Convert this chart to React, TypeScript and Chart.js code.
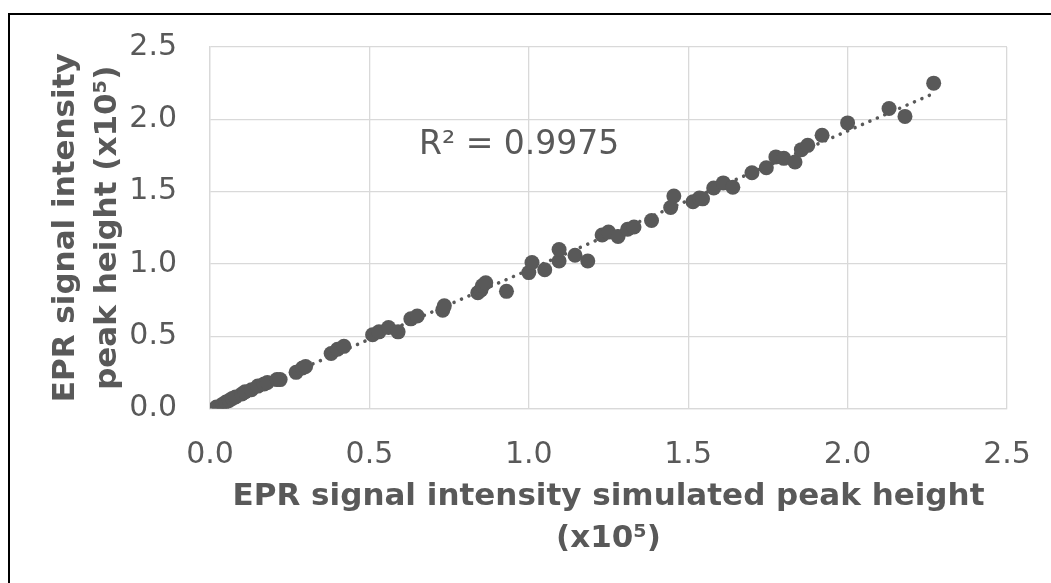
import React, { useEffect, useRef } from "react";
import { Chart, registerables } from "chart.js";

Chart.register(...registerables);

// Simulated peak height (x10^5)
const simulatedValues: number[] = [
  0.02, 0.03, 0.04, 0.05, 0.06, 0.07, 0.08, 0.10, 0.11, 0.13, 0.15, 0.17, 0.18, 0.21, 0.22,
  0.27, 0.29, 0.30, 0.38, 0.40, 0.42,
  0.51, 0.53, 0.56, 0.59, 0.63, 0.65, 0.73, 0.735, 0.84, 0.85, 0.855, 0.865, 0.93,
  1.00, 1.01, 1.05, 1.095, 1.095, 1.145, 1.185, 1.23, 1.25, 1.28, 1.31, 1.33, 1.385,
  1.445, 1.455, 1.515, 1.535, 1.545, 1.58, 1.61, 1.64, 1.70, 1.745, 1.775, 1.80, 1.835,
  1.855, 1.875, 1.92, 2.00, 2.13, 2.18, 2.27,
];
// Measured peak height (x10^5)
const measuredValues: number[] = [
  0.01, 0.00, 0.03, 0.045, 0.055, 0.07, 0.08, 0.10, 0.115, 0.13, 0.155, 0.17, 0.18, 0.20, 0.20,
  0.25, 0.28, 0.29, 0.38, 0.41, 0.43,
  0.51, 0.53, 0.56, 0.53, 0.62, 0.64, 0.68, 0.71, 0.80, 0.82, 0.85, 0.87, 0.81,
  0.94, 1.01, 0.96, 1.02, 1.10, 1.06, 1.02, 1.20, 1.22, 1.19, 1.24, 1.255, 1.30,
  1.39, 1.47, 1.43, 1.455, 1.45, 1.525, 1.56, 1.53, 1.63, 1.665, 1.74, 1.73, 1.705,
  1.79, 1.82, 1.89, 1.975, 2.075, 2.02, 2.25,
];
const axisTicks: number[] = [0, 0.5, 1.0, 1.5, 2.0, 2.5];
const r2Label = "R\u00B2 = 0.9975";
const xTitle = ["EPR signal intensity simulated peak height", "(x10\u2075)"];
const yTitle = ["EPR signal intensity", "peak height (x10\u2075)"];

const GREY = "#595959";
const GRID = "#d9d9d9";

export default function App() {
  const canvasRef = useRef<HTMLCanvasElement | null>(null);

  useEffect(() => {
    const canvas = canvasRef.current;
    if (!canvas) return;

    const points = simulatedValues.map((x, i) => ({ x, y: measuredValues[i] }));
    // least-squares linear trendline
    const n = points.length;
    const mx = simulatedValues.reduce((a, b) => a + b, 0) / n;
    const my = measuredValues.reduce((a, b) => a + b, 0) / n;
    let sxy = 0;
    let sxx = 0;
    points.forEach((p) => {
      sxy += (p.x - mx) * (p.y - my);
      sxx += (p.x - mx) * (p.x - mx);
    });
    const slope = sxy / sxx;
    const intercept = my - slope * mx;
    const xmin = Math.min(...simulatedValues);
    const xmax = Math.max(...simulatedValues);
    const trend = [
      { x: xmin, y: intercept + slope * xmin },
      { x: xmax, y: intercept + slope * xmax },
    ];

    const r2Plugin = {
      id: "r2label",
      afterDatasetsDraw(chart: any) {
        const { ctx, chartArea } = chart;
        ctx.save();
        ctx.font = "33px 'DejaVu Sans'";
        ctx.fillStyle = GREY;
        ctx.textAlign = "left";
        ctx.textBaseline = "middle";
        ctx.fillText(r2Label, chartArea.left + 209, chartArea.top + 98);
        ctx.restore();
      },
    };

    const chart = new Chart(canvas, {
      type: "scatter",
      data: {
        datasets: [
          {
            label: "data",
            data: points,
            pointRadius: 7.5,
            pointHoverRadius: 7.5,
            pointBackgroundColor: GREY,
            pointBorderWidth: 0,
            showLine: false,
          },
          {
            label: "trend",
            data: trend,
            showLine: true,
            pointRadius: 0,
            borderColor: GREY,
            borderWidth: 3.5,
            borderDash: [0.1, 8],
            borderCapStyle: "round",
            fill: false,
          } as any,
        ],
      },
      options: {
        animation: false,
        responsive: false,
        maintainAspectRatio: false,
        layout: { padding: { top: 32, right: 44, left: 0, bottom: 0 } },
        plugins: {
          legend: { display: false },
          tooltip: { enabled: false },
        },
        scales: {
          x: {
            type: "linear",
            min: 0,
            max: 2.5,
            afterBuildTicks: (scale: any) => {
              scale.ticks = axisTicks.map((v) => ({ value: v }));
            },
            afterFit: (scale: any) => {
              scale.height = 174.5;
            },
            grid: {
              color: GRID,
              lineWidth: 1.3,
              drawTicks: true,
              tickLength: 26,
              tickColor: "rgba(0,0,0,0)",
            },
            border: { color: GRID, width: 1.3 },
            ticks: {
              padding: 3,
              color: GREY,
              font: { family: "'DejaVu Sans'", size: 30 },
              callback: (v: any) => Number(v).toFixed(1),
            },
            title: {
              display: true,
              text: xTitle,
              color: GREY,
              font: { family: "'DejaVu Sans'", size: 31, weight: "bold", lineHeight: 1.35 },
              padding: { top: 0, bottom: 23 },
            },
          },
          y: {
            type: "linear",
            min: 0,
            max: 2.5,
            afterBuildTicks: (scale: any) => {
              scale.ticks = axisTicks.map((v) => ({ value: v }));
            },
            afterFit: (scale: any) => {
              scale.width = 200;
            },
            grid: {
              color: GRID,
              lineWidth: 1.3,
              drawTicks: true,
              tickLength: 30,
              tickColor: "rgba(0,0,0,0)",
            },
            border: { color: GRID, width: 1.3 },
            ticks: {
              padding: 3,
              color: GREY,
              font: { family: "'DejaVu Sans'", size: 30 },
              callback: (v: any) => Number(v).toFixed(1),
            },
            title: {
              display: true,
              text: yTitle,
              color: GREY,
              font: { family: "'DejaVu Sans'", size: 31, weight: "bold", lineHeight: 1.35 },
              padding: { top: 35, bottom: 0 },
            },
          },
        },
      },
      plugins: [r2Plugin],
    });

    return () => chart.destroy();
  }, []);

  return (
    <div
      style={{
        position: "absolute",
        left: 8,
        top: 13,
        width: 1043,
        height: 570,
        borderTop: "2px solid #000",
        borderLeft: "2px solid #000",
        boxSizing: "border-box",
        background: "#fff",
        overflow: "hidden",
      }}
    >
      <canvas ref={canvasRef} width={1041} height={568} style={{ display: "block" }} />
    </div>
  );
}
